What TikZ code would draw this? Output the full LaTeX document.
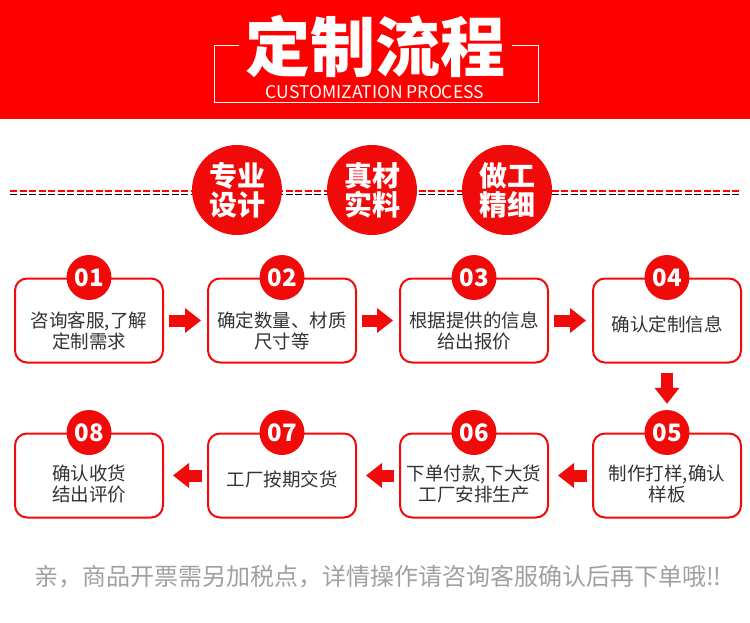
\documentclass[tikz,border=0pt]{standalone}
\usepackage{fontspec}
\setmainfont{Noto Sans CJK SC}
\usetikzlibrary{arrows.meta,positioning,calc}
\definecolor{brand}{HTML}{FF0000}
\definecolor{dotred}{HTML}{F00A0A}
\definecolor{ink}{HTML}{333333}
\definecolor{note}{HTML}{A0A0A0}
\definecolor{shade}{HTML}{FCE8E8}
\tikzset{stepbox/.style={draw=dotred,line width=2pt,rounded corners=12pt,fill=white,
  minimum width=148pt,minimum height=84pt,inner sep=0pt},
  steptext/.style={text=ink,font=\fontsize{18.5}{21}\selectfont,align=center,inner sep=0pt},
  numdot/.style={circle,fill=dotred,text=white,font=\fontsize{24}{24}\selectfont\bfseries,
  minimum size=45pt,inner sep=0pt},
  badge/.style={circle,fill=dotred,text=white,font=\fontsize{28}{29}\selectfont\bfseries,
  align=center,minimum size=90pt,inner sep=0pt},
  flow/.style={draw=dotred,line width=12pt,-{Triangle[length=16pt,width=24pt]}}}

\begin{document}
\begin{tikzpicture}[x=1pt,y=-1pt]
\useasboundingbox (0,0) rectangle (750,623);
% header
\fill[brand] (0,0) rectangle (750,119);
\node[text=white,font=\fontsize{65}{65}\selectfont\bfseries,inner sep=0pt] (title) at (375,46) {定制流程};
\node[text=white,font=\fontsize{17.5}{17.5}\selectfont,inner sep=0pt] (subtitle) at (375,92) {CUSTOMIZATION PROCESS};
\draw[white,line width=1pt] (239,46) -- (214,46) -- (214,103) -- (538,103) -- (538,46) -- (512,46);
% dashed rule and badges
\draw[shade,line width=1.5pt,dash pattern=on 7pt off 2.5pt] (10,194.5) -- (741,194.5);
\draw[brand,line width=2.5pt,dash pattern=on 7pt off 2.5pt] (10,191) -- (741,191);
\node[badge] (pro) at (237,190) {专业\\设计};
\node[badge] (real) at (372,190) {真材\\实料};
\node[badge] (fine) at (507,190) {做工\\精细};
% steps, first row
\node[stepbox] (s1) at (89,320.5) {};
\node[stepbox] (s2) at (282,320.5) {};
\node[stepbox] (s3) at (474,320.5) {};
\node[stepbox] (s4) at (667,320.5) {};
% steps, second row
\node[stepbox] (s5) at (667,475.5) {};
\node[stepbox] (s6) at (474,475.5) {};
\node[stepbox] (s7) at (282,475.5) {};
\node[stepbox] (s8) at (89,475.5) {};
\node[numdot] (n1) at (s1.north) {01};
\node[numdot] (n2) at (s2.north) {02};
\node[numdot] (n3) at (s3.north) {03};
\node[numdot] (n4) at (s4.north) {04};
\node[numdot] (n5) at (s5.north) {05};
\node[numdot] (n6) at (s6.north) {06};
\node[numdot] (n7) at (s7.north) {07};
\node[numdot] (n8) at (s8.north) {08};
\node[steptext] (t1) at ([yshift=-10.5pt]s1.center) {咨询客服,了解\\定制需求};
\node[steptext] (t2) at ([yshift=-10.5pt]s2.center) {确定数量、材质\\尺寸等};
\node[steptext] (t3) at ([yshift=-10.5pt]s3.center) {根据提供的信息\\给出报价};
\node[steptext] (t4) at ([yshift=-3.5pt]s4.center) {确认定制信息};
\node[steptext] (t5) at ([yshift=-8pt]s5.center) {制作打样,确认\\样板};
\node[steptext] (t6) at ([yshift=-8pt]s6.center) {下单付款,下大货\\工厂安排生产};
\node[steptext] (t7) at ([yshift=-3.5pt]s7.center) {工厂按期交货};
\node[steptext] (t8) at ([yshift=-8pt]s8.center) {确认收货\\结出评价};
\draw[flow,shorten <=5pt,shorten >=6pt] (s1) -- (s2);
\draw[flow,shorten <=5pt,shorten >=6pt] (s2) -- (s3);
\draw[flow,shorten <=5pt,shorten >=6pt] (s3) -- (s4);
\draw[flow,shorten <=9pt,shorten >=6pt] (s4) -- (n5);
\draw[flow,shorten <=5pt,shorten >=9pt] (s5) -- (s6);
\draw[flow,shorten <=5pt,shorten >=9pt] (s6) -- (s7);
\draw[flow,shorten <=5pt,shorten >=9pt] (s7) -- (s8);
% footer
\node[text=note,font=\fontsize{24}{24}\selectfont,inner sep=0pt] (footer) at (378,577) {亲，商品开票需另加税点，详情操作请咨询客服确认后再下单哦!!};
\end{tikzpicture}
\end{document}
